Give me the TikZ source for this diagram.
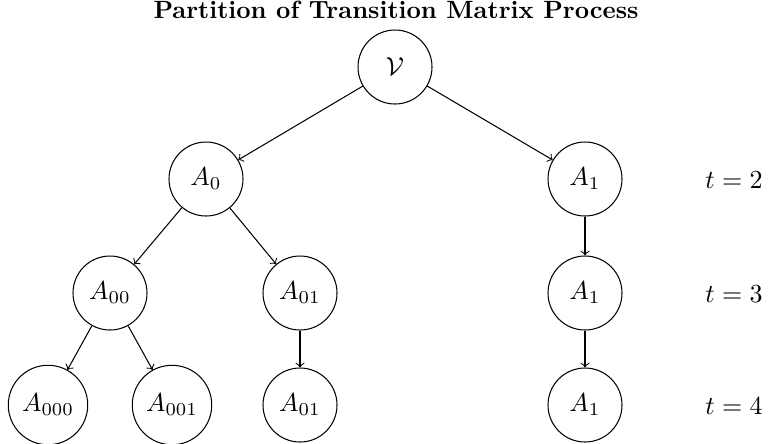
\documentclass[tikz,border=0pt]{standalone}
\begin{document}
\begin{tikzpicture}[x=0.384615pt,y=-0.384615pt,
  st/.style={circle,draw,minimum size=28.46pt,inner sep=3.33pt},
  arr/.style={->}]
\useasboundingbox (0,0) rectangle (769,443);
\node[anchor=base,font=\fontsize{9.6pt}{11pt}\selectfont\bfseries] (title) at (396,18) {Partition of Transition Matrix Process};
\node[st] (v) at (395,67) {$\mathcal{V}$};
\node[st] (a0) at (206,179) {$A_0$};
\node[st] (a1) at (585,179) {$A_1$};
\node[st] (a00) at (110,293) {$A_{00}$};
\node[st] (a01) at (300,293) {$A_{01}$};
\node[st] (a1b) at (585,293) {$A_1$};
\node[st] (a000) at (48,405) {$A_{000}$};
\node[st] (a001) at (172,405) {$A_{001}$};
\node[st] (a01b) at (300,405) {$A_{01}$};
\node[st] (a1c) at (585,405) {$A_1$};
\node (t2) at (734,180) {$t=2$};
\node (t3) at (734,294) {$t=3$};
\node (t4) at (734,406) {$t=4$};
\draw[arr] (v) -- (a0);
\draw[arr] (v) -- (a1);
\draw[arr] (a0) -- (a00);
\draw[arr] (a0) -- (a01);
\draw[arr] (a1) -- (a1b);
\draw[arr] (a00) -- (a000);
\draw[arr] (a00) -- (a001);
\draw[arr] (a01) -- (a01b);
\draw[arr] (a1b) -- (a1c);
\end{tikzpicture}
\end{document}
